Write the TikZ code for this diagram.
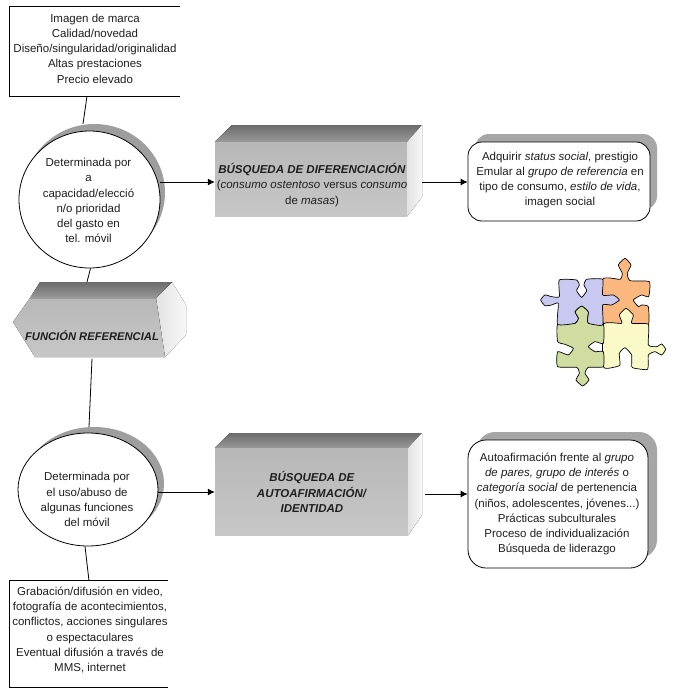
\documentclass[tikz,border=0pt]{standalone}
\usepackage{fontspec}
\setmainfont{Liberation Sans}
\usetikzlibrary{shapes.geometric,arrows.meta,shadings}
\definecolor{ink}{gray}{0.12}
\tikzset{
  x=1pt,y=-1pt,
  txt/.style={align=center,inner sep=0pt,text=ink,font=\fontsize{11.5}{15.2}\selectfont},
  plainbox/.style={inner sep=0pt,fill=white},
  oval/.style={ellipse,inner sep=0pt,draw=black,line width=0.8pt,fill=white},
  ovalshadow/.style={ellipse,inner sep=0pt,fill=black!38},
  rbox/.style={rounded corners=14pt,draw=black,line width=0.8pt,fill=white},
  rshadow/.style={rounded corners=14pt,fill=black!35},
  front/.style={inner sep=0pt,top color=black!28,bottom color=black!22},
  topface/.style={top color=black!58,bottom color=black!40},
  sideface/.style={left color=black!11,right color=black!3},
  link/.style={black,line width=0.8pt},
  arrow/.style={black,line width=0.8pt,-{Latex[length=7pt,width=7pt]}},
  piece/.style={black,line width=0.7pt}
}
\begin{document}
\begin{tikzpicture}
\useasboundingbox (0,0) rectangle (682,699);
\fill[white] (0,0) rectangle (682,699);

% top box (open on the right)
\node[plainbox,minimum width=170pt,minimum height=89pt] (tb) at (95,51.5) {};
\draw[line width=0.8pt] (tb.north east) -- (tb.north west) -- (tb.south west) -- (tb.south east);
\node[txt] (tbt) at (95,48.5) {Imagen de marca\\Calidad/novedad\\Diseño/singularidad/originalidad\\Altas prestaciones\\Precio elevado};

% first oval
\node[ovalshadow,minimum width=141pt,minimum height=137pt] (c1s) at (94.5,192.5) {};
\node[oval,minimum width=141pt,minimum height=137pt] (c1) at (89.5,199.5) {};
\node[txt] (c1t) at (88.5,200.5) {Determinada por\\a\\capacidad/elecció\\n/o prioridad\\del gasto en\\tel. móvil};

% referential function block
\coordinate (frA) at (40,282);
\coordinate (frB) at (172,282);
\node[inner sep=0pt,minimum width=1pt,minimum height=1pt] (frtop) at (90,282) {};
\node[inner sep=0pt,minimum width=1pt,minimum height=1pt] (frbot) at (92,358) {};
\fill[sideface] (156,298) -- (172,282) -- (186,305) -- (186,335) -- (165,357) -- cycle;
\fill[front] (30,298) -- (156,298) -- (165,357) -- (35,357) -- (13,322) -- cycle;
\fill[topface] (frA) -- (frB) -- (156,298) -- (30,298) -- cycle;
\node[txt,font=\fontsize{11.2}{14}\selectfont\bfseries\itshape] (frt) at (92,336) {FUNCIÓN REFERENCIAL};

% second oval
\node[ovalshadow,minimum width=140pt,minimum height=113pt] (c2s) at (94,483.5) {};
\node[oval,minimum width=140pt,minimum height=113pt] (c2) at (88,489.5) {};
\node[txt] (c2t) at (87,499.5) {Determinada por\\el uso/abuso de\\algunas funciones\\del móvil};

% bottom box (open on the right)
\node[plainbox,minimum width=158pt,minimum height=106pt] (bb) at (89,634) {};
\draw[line width=0.8pt] (bb.north east) -- (bb.north west) -- (bb.south west) -- (bb.south east);
\node[txt] (bbt) at (90,630) {Grabación/difusión en video,\\fotografía de acontecimientos,\\conflictos, acciones singulares\\o espectaculares\\Eventual difusión a través de\\MMS, internet};

% block 1
\node[front,minimum width=192pt,minimum height=74pt] (b1) at (311,179) {};
\fill[topface] (b1.north west) -- (232,125) -- (422,125) -- (b1.north east) -- cycle;
\fill[sideface] (b1.north east) -- (422,125) -- (422,197) -- (b1.south east) -- cycle;
\node[txt] (b1t) at (312,185) {\textbf{\textit{BÚSQUEDA DE DIFERENCIACIÓN}}\\(\textit{consumo ostentoso} versus \textit{consumo}\\de \textit{masas})};

% block 2
\node[front,minimum width=193pt,minimum height=87pt] (b2) at (311.5,491.5) {};
\fill[topface] (b2.north west) -- (230,433) -- (422,433) -- (b2.north east) -- cycle;
\fill[sideface] (b2.north east) -- (422,433) -- (422,515) -- (b2.south east) -- cycle;
\node[txt] (b2t) at (312,492) {\textbf{\textit{BÚSQUEDA DE}}\\\textbf{\textit{AUTOAFIRMACIÓN/}}\\\textbf{\textit{IDENTIDAD}}};

% rounded box 1
\node[rshadow,minimum width=182pt,minimum height=76pt] (r1s) at (566,172) {};
\node[rbox,minimum width=182pt,minimum height=79pt] (r1) at (559,181.5) {};
\node[txt] (r1t) at (560,180) {Adquirir \textit{status social}, prestigio\\Emular al \textit{grupo de referencia} en\\tipo de consumo, \textit{estilo de vida},\\imagen social};

% rounded box 2
\node[rshadow,rounded corners=18pt,minimum width=180pt,minimum height=126pt] (r2s) at (567,495) {};
\node[rbox,rounded corners=18pt,minimum width=180pt,minimum height=128pt] (r2) at (558,504) {};
\node[txt] (r2t) at (557,504) {Autoafirmación frente al \textit{grupo}\\\textit{de pares, grupo de interés} o\\\textit{categoría social} de pertenencia\\(niños, adolescentes, jóvenes...)\\Prácticas subculturales\\Proceso de individualización\\Búsqueda de liderazgo};

% connectors
\draw[link] ([xshift=-8pt]tb.south) -- (c1s.north -| 83,0);
\draw[link] ([xshift=1pt]c1.south) -- ([xshift=-3pt]frtop.center);
\draw[link] (frbot.south) -- (c2s.north -| 89,0);
\draw[link] ([xshift=-3pt]c2.south) -- ([xshift=0pt]bb.north);
\draw[arrow] (c1.east |- 0,182) -- (b1.west |- 0,182);
\draw[arrow] (422,182) -- (r1.west |- 0,182);
\draw[arrow] (c2.east |- 0,492) -- (b2.west |- 0,492);
\draw[arrow] (425,494) -- (r2.west |- 0,494);

% puzzle
\begin{scope}[shift={(520,240)},x=0.3333pt,y=-0.3333pt]
\filldraw[piece,fill={rgb,255:red,251;green,184;blue,126}] plot[smooth cycle,tension=0.3] coordinates {(248,118)(300,118)(307,100)(295,75)(315,55)(333,75)(322,100)(330,122)(388,125)(386,170)(365,165)(340,180)(355,200)(365,195)(385,200)(385,255)(340,255)(250,250)};
\filldraw[piece,fill={rgb,255:red,250;green,250;blue,200}] plot[smooth cycle,tension=0.3] coordinates {(250,253)(305,250)(298,225)(318,205)(340,225)(335,250)(385,253)(385,315)(410,320)(425,312)(437,328)(425,345)(405,335)(385,345)(383,388)(345,385)(335,380)(335,345)(315,323)(298,340)(300,375)(280,382)(250,380)};
\filldraw[piece,fill={rgb,255:red,207;green,221;blue,160}] plot[smooth cycle,tension=0.3] coordinates {(113,253)(165,250)(175,235)(165,215)(185,198)(205,215)(203,235)(205,250)(250,253)(250,310)(225,305)(205,320)(225,335)(250,335)(250,380)(205,382)(195,400)(207,420)(188,438)(168,420)(178,400)(170,382)(113,380)(113,335)(145,345)(160,325)(135,313)(113,305)};
\filldraw[piece,fill={rgb,255:red,200;green,200;blue,240}] plot[smooth cycle,tension=0.3] coordinates {(118,120)(170,120)(178,135)(170,152)(185,172)(200,152)(192,135)(200,118)(248,118)(248,165)(280,165)(298,180)(275,195)(248,195)(248,255)(205,250)(203,235)(205,215)(185,198)(165,215)(175,235)(165,250)(113,253)(115,190)(95,195)(75,197)(62,180)(75,165)(95,170)(118,170)};
\end{scope}
\end{tikzpicture}
\end{document}
